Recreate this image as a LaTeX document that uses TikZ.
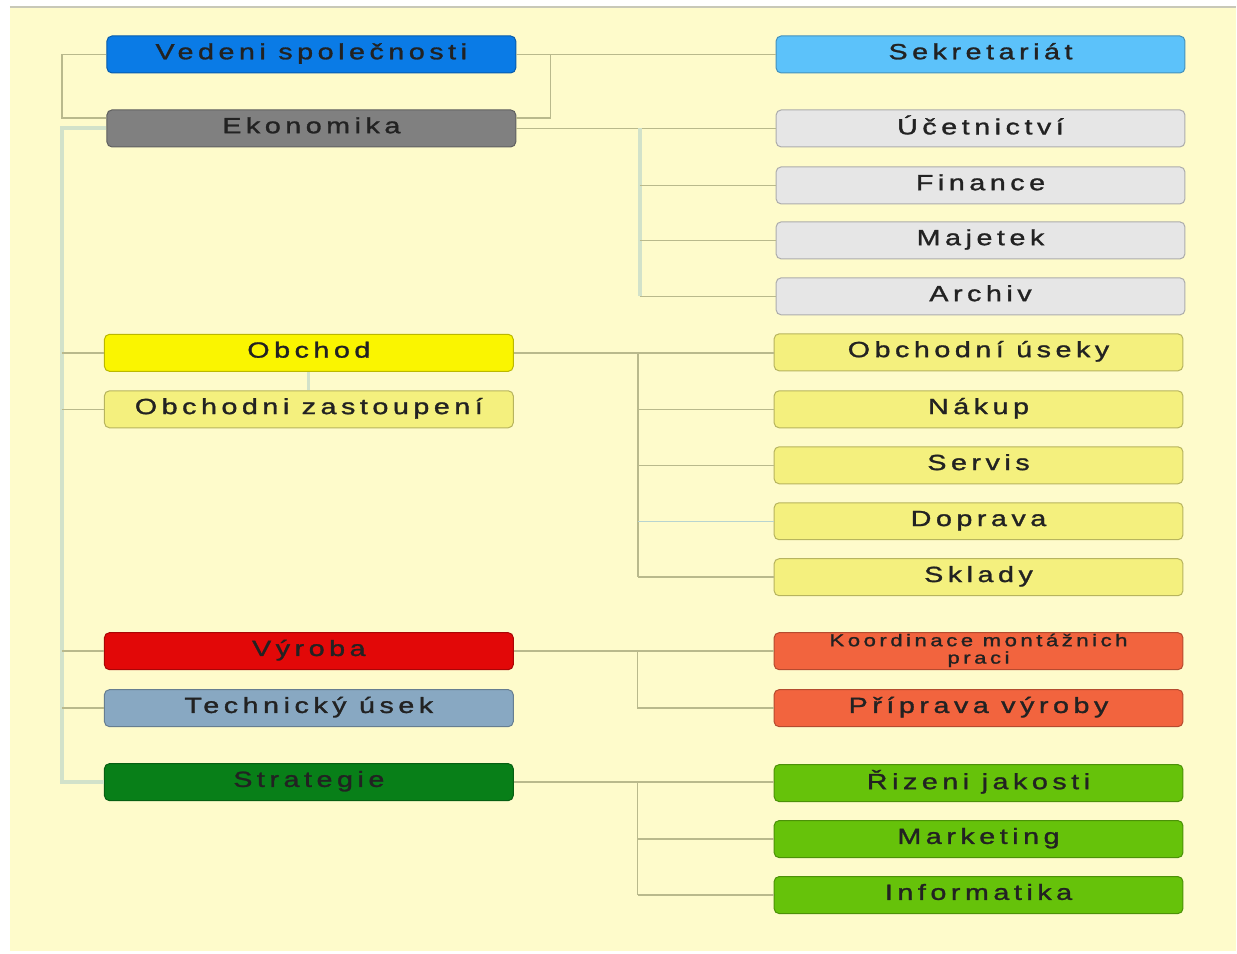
\documentclass[tikz,border=0pt]{standalone}
\usepackage{fontspec}
\setmainfont{Liberation Sans}
\newfontfamily\boxfont[LetterSpace=16,FakeBold=1.2]{Liberation Sans}
\newcommand\widetext[1]{\scalebox{1.3}[1]{\begin{tabular}{@{}c@{}}#1\end{tabular}}}
\definecolor{paper}{HTML}{FEFBCB}
\definecolor{frame}{HTML}{C8C8B8}
\definecolor{olive}{HTML}{B9B98C}
\definecolor{trunk}{HTML}{D2E2CA}
\definecolor{thinblue}{HTML}{B8D4D0}
\definecolor{txt}{HTML}{222222}
\definecolor{cBlue}{HTML}{0A7BE6}
\definecolor{cGray}{HTML}{808080}
\definecolor{cSky}{HTML}{5CC2FA}
\definecolor{cLight}{HTML}{E6E6E6}
\definecolor{cYellow}{HTML}{FAF500}
\definecolor{cPale}{HTML}{F4F07E}
\definecolor{cRed}{HTML}{E20808}
\definecolor{cSteel}{HTML}{88A8C2}
\definecolor{cDark}{HTML}{087F18}
\definecolor{cOrange}{HTML}{F2643E}
\definecolor{cGreen}{HTML}{66C20A}
\tikzset{
  unit/.style={draw=#1!75!black, fill=#1, line width=1pt, rounded corners=5pt,
    minimum width=409pt, minimum height=37pt, inner sep=0pt, text=txt,
    font=\boxfont\fontsize{22}{24}\selectfont},
  link/.style={draw=olive, line width=1.5pt},
  spine/.style={draw=trunk, line width=4pt},
  bluelink/.style={draw=thinblue, line width=1.2pt}
}
\begin{document}
\begin{tikzpicture}[x=1pt,y=-1pt]
% page and backdrop
\fill[white] (0,0) rectangle (1237,954);
\fill[paper] (10,8) rectangle (1237,951);
\draw[frame, line width=1.2pt] (10,7) -- (1237,7);

% left column
\node[unit=cBlue]   (ved) at (311.5,54.5)  {\widetext{Vedeni společnosti}};
\node[unit=cGray]   (eko) at (311.5,128.5) {\widetext{Ekonomika}};
\node[unit=cYellow] (obc) at (309,353)     {\widetext{Obchod}};
\node[unit=cPale]   (oza) at (309,409.5)   {\widetext{Obchodni zastoupení}};
\node[unit=cRed]    (vyr) at (309,651.5)   {\widetext{Výroba}};
\node[unit=cSteel]  (tec) at (309,708.5)   {\widetext{Technický úsek}};
\node[unit=cDark]   (str) at (309,782.5)   {\widetext{Strategie}};

% right column
\node[unit=cSky]    (sek) at (981,54.5)  {\widetext{Sekretariát}};
\node[unit=cLight]  (uce) at (981,128.5) {\widetext{Účetnictví}};
\node[unit=cLight]  (fin) at (981,185.5) {\widetext{Finance}};
\node[unit=cLight]  (maj) at (981,240.5) {\widetext{Majetek}};
\node[unit=cLight]  (arc) at (981,296.5) {\widetext{Archiv}};
\node[unit=cPale]   (ous) at (979,352.5) {\widetext{Obchodní úseky}};
\node[unit=cPale]   (nak) at (979,409.5) {\widetext{Nákup}};
\node[unit=cPale]   (ser) at (979,465.5) {\widetext{Servis}};
\node[unit=cPale]   (dop) at (979,521.5) {\widetext{Doprava}};
\node[unit=cPale]   (skl) at (979,577.5) {\widetext{Sklady}};
\node[unit=cOrange, font=\boxfont\fontsize{17}{17}\selectfont]
                    (koo) at (979,651.5) {\widetext{Koordinace montážnich\\praci}};
\node[unit=cOrange] (pri) at (979,708.5) {\widetext{Příprava výroby}};
\node[unit=cGreen]  (riz) at (979,783.5) {\widetext{Řizeni jakosti}};
\node[unit=cGreen]  (mar) at (979,839.5) {\widetext{Marketing}};
\node[unit=cGreen]  (inf) at (979,895.5) {\widetext{Informatika}};

% junction points
\coordinate (bl) at (62,118);
\coordinate (br) at (551,118);
\coordinate (tk) at (62,128.5);
\coordinate (ek) at (640,128.5);
\coordinate (ob) at (638,353);
\coordinate (vy) at (638,651.5);
\coordinate (st) at (638,783);

% top bracket between management and economics
\draw[link] (ved.west) -| (bl) -- (bl -| eko.west);
\draw[link] (ved.east) -| (br) -- (br -| eko.east);
\draw[link] (ved.east) -- (sek.west);

% main trunk on the left
\draw[spine] (eko.west) -- (tk) -- (tk |- str.west) -- (str.west);
\foreach \n in {obc,oza,vyr,tec}
  \draw[link] (tk |- \n.west) -- (\n.west);
\draw[spine, line width=3pt] (obc.south) -- (oza.north);

% economics group
\draw[link] (eko.east) -- (uce.west);
\draw[spine] (ek) -- (ek |- arc.west);
\foreach \n in {fin,maj,arc}
  \draw[link] (ek |- \n.west) -- (\n.west);

% trade group
\draw[link] (obc.east) -- (obc.east -| ous.west);
\draw[link, line width=2pt] (ob) -- (ob |- skl.west);
\foreach \n in {nak,ser,skl}
  \draw[link] (ob |- \n.west) -- (\n.west);
\draw[bluelink] (ob |- dop.west) -- (dop.west);

% production group
\draw[link] (vyr.east) -- (koo.west);
\draw[link] (vy) -- (vy |- pri.west) -- (pri.west);

% strategy group
\draw[link] (str.east) -- (str.east -| riz.west);
\draw[link] (st) -- (st |- inf.west);
\foreach \n in {mar,inf}
  \draw[link] (st |- \n.west) -- (\n.west);
\end{tikzpicture}
\end{document}
